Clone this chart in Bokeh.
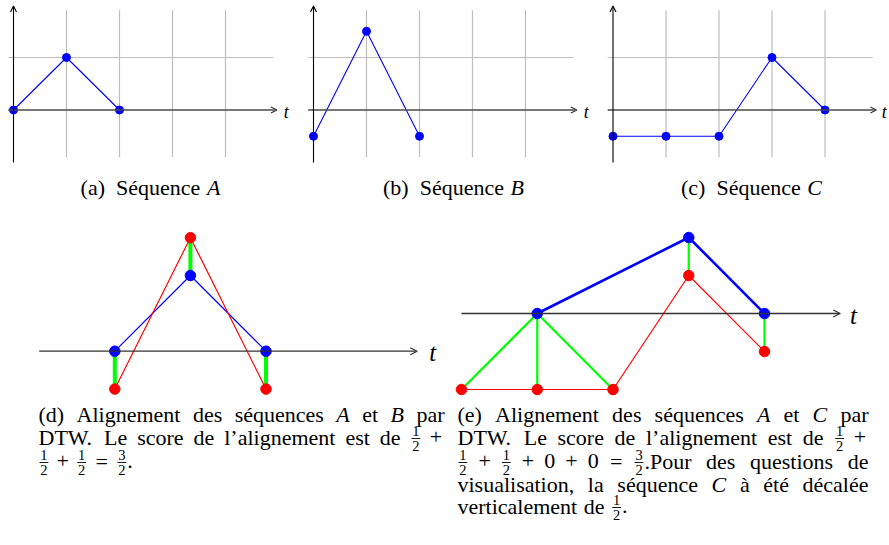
from bokeh.plotting import figure
from bokeh.models import Range1d, Arrow, OpenHead
from bokeh.layouts import column, row
from bokeh.core.properties import value
from bokeh.embed import file_html
from bokeh.resources import INLINE

# ---------------- data ----------------
t_A = [0, 1, 2]
seq_A = [0, 1, 0]
t_B = [0, 1, 2]
seq_B = [-0.5, 1.5, -0.5]
t_C = [0, 1, 2, 3, 4]
seq_C = [-0.5, -0.5, -0.5, 1, 0]
grid_x = [1, 2, 3, 4]
grid_y = [1]
# DTW alignment paths (index in A, index in other sequence)
path_AB = [(0, 0), (1, 1), (2, 2)]
path_AC = [(0, 0), (0, 1), (0, 2), (1, 3), (2, 4)]
# positions of the points of A on the time axis of panel (e)
t_A_e = [1, 3, 4]
shift_C = -0.5
top_labels = ["(a)", "(b)", "(c)"]
top_names = ["A", "B", "C"]

FONT = value("Liberation Serif")


def panel(w, h, xr, yr):
    p = figure(width=w, height=h, x_range=Range1d(*xr), y_range=Range1d(*yr),
               output_backend="svg", toolbar_location=None, min_border=0,
               x_axis_type=None, y_axis_type=None, outline_line_color=None,
               background_fill_color="white", border_fill_color="white")
    return p


# ---------------- top row ----------------
UX, UY = 53.0, 52.5
Y0_TOP = 109.5
H_TOP = 170


def top_panel(w, left_px, ts, vals, t_x):
    xs = -left_px / UX
    p = panel(w, H_TOP, (xs, xs + w / UX), (-(H_TOP - Y0_TOP) / UY, Y0_TOP / UY))
    n = len(grid_x)
    p.segment(x0=grid_x, y0=[-0.9] * n, x1=grid_x, y1=[1.9] * n,
              line_color="#bdbdbd", line_width=1.2)
    m = len(grid_y)
    p.segment(x0=[-0.1] * m, y0=grid_y, x1=[4.9] * m, y1=grid_y,
              line_color="#bdbdbd", line_width=1.2)
    p.add_layout(Arrow(end=OpenHead(size=6, line_color="#333333", line_width=1.1),
                       x_start=-0.1, y_start=0, x_end=4.97, y_end=0,
                       line_color="#4a4a4a", line_width=1.7))
    p.add_layout(Arrow(end=OpenHead(size=6, line_color="black", line_width=1.1),
                       x_start=0, y_start=-1.0, x_end=0, y_end=1.98,
                       line_color="black", line_width=1.1))
    p.text(x=[t_x], y=[-0.03], text=["t"], text_font=FONT, text_font_style="italic",
           text_font_size="18px", text_align="left", text_baseline="middle",
           text_color="black")
    p.line(ts, vals, line_color="blue", line_width=1.1)
    p.scatter(ts, vals, size=8, fill_color="blue", line_color="blue")
    return p


fa = top_panel(300, 13, t_A, seq_A, 5.1)
fb = top_panel(300, 13, t_B, seq_B, 5.1)
fc = top_panel(289, 12.5, t_C, seq_C, 5.07)

# ---------------- bottom row ----------------
Y_BOT0, Y_BOT1 = 210, 400
# (d)
dux, duy = 75.6, 75.7
dxs = (0 - 114.3) / dux
fd = panel(448, Y_BOT1 - Y_BOT0, (dxs, dxs + 448 / dux),
           (-(Y_BOT1 - 350.7) / duy, (350.7 - Y_BOT0) / duy))
fd.add_layout(Arrow(end=OpenHead(size=7, line_color="#333333", line_width=1.2),
                    x_start=-1, y_start=0, x_end=4.0, y_end=0,
                    line_color="#333333", line_width=1.3))
fd.text(x=[4.16], y=[-0.02], text=["t"], text_font=FONT, text_font_style="italic",
        text_font_size="25px", text_align="left", text_baseline="middle")
fd.line(t_A, seq_A, line_color="#0000ff", line_width=1.2)
fd.line(t_B, seq_B, line_color="#ff0000", line_width=1.2)
fd.segment(x0=[t_A[i] for i, j in path_AB], y0=[seq_A[i] for i, j in path_AB],
           x1=[t_B[j] for i, j in path_AB], y1=[seq_B[j] for i, j in path_AB],
           line_color="#00ff00", line_width=4)
fd.scatter(t_A, seq_A, size=10.5, fill_color="blue", line_color="blue")
fd.scatter(t_B, seq_B, size=10.5, fill_color="red", line_color="red")

# (e)
eux, euy = 75.75, 76.0
exs = (448 - 461) / eux
fe = panel(441, Y_BOT1 - Y_BOT0, (exs, exs + 441 / eux),
           (-(Y_BOT1 - 313) / euy, (313 - Y_BOT0) / euy))
C_shifted = [c + shift_C for c in seq_C]
fe.add_layout(Arrow(end=OpenHead(size=7, line_color="#333333", line_width=1.2),
                    x_start=0, y_start=0, x_end=5.0, y_end=0,
                    line_color="#333333", line_width=1.3))
fe.text(x=[5.13], y=[-0.02], text=["t"], text_font=FONT, text_font_style="italic",
        text_font_size="25px", text_align="left", text_baseline="middle")
fe.line(t_C, C_shifted, line_color="#ff0000", line_width=1.2)
fe.segment(x0=[t_A_e[i] for i, j in path_AC], y0=[seq_A[i] for i, j in path_AC],
           x1=[t_C[j] for i, j in path_AC], y1=[C_shifted[j] for i, j in path_AC],
           line_color="#00ff00", line_width=2.2)
fe.line(t_A_e, seq_A, line_color="#0000ff", line_width=2.6)
fe.scatter(t_C, C_shifted, size=10.5, fill_color="red", line_color="red")
fe.scatter(t_A_e, seq_A, size=10.5, fill_color="blue", line_color="blue")

# ---------------- caption typesetting ----------------
FS = 22
FSF = 14.5
MID = 0.34  # offset from baseline to the middle of the em box, in em
RM = {" ": 250, "(": 333, ")": 333, ",": 250, ".": 250, "+": 564, "=": 564, "’": 333,
      "a": 444, "b": 500, "c": 444, "d": 500, "e": 444, "f": 333, "g": 500, "h": 500,
      "i": 278, "j": 278, "k": 500, "l": 278, "m": 778, "n": 500, "o": 500, "p": 500,
      "q": 500, "r": 333, "s": 389, "t": 278, "u": 500, "v": 500, "w": 722, "x": 500,
      "y": 500, "z": 444, "A": 722, "B": 667, "C": 667, "D": 722, "E": 611, "L": 611,
      "P": 556, "S": 556, "T": 611, "W": 944, "é": 444, "à": 444}
IT = {"A": 611, "B": 611, "C": 667, "t": 278}
GAP = {"S": (0.30 * FS, 1.0), "m": (0.222 * FS, 0.35), "M": (0.278 * FS, 0.35),
       "L": (0.5 * FS, 1.0)}


def tw(s, it=False, size=FS):
    tot = 0
    for ch in s:
        tot += IT.get(ch, RM.get(ch, 500)) if it else RM.get(ch, 500)
    return tot * size / 1000.0


def item_w(tok):
    k = tok[0]
    if k == "w":
        return tw(tok[1])
    if k == "i":
        return tw(tok[1], True)
    if k == "o":
        return 0.778 * FS
    if k == "f":
        return max(tw(tok[1], size=FSF), tw(tok[2], size=FSF)) + 3.6
    return 0


def natural(tokens):
    nat, wsum = 0.0, 0.0
    for tok in tokens:
        if isinstance(tok, str):
            nat += GAP[tok][0]
            wsum += GAP[tok][1]
        else:
            nat += item_w(tok)
    return nat, wsum


def set_line(tokens, x0, x1, base, justify, out):
    nat, wsum = natural(tokens)
    extra = (x1 - x0 - nat) / wsum if (justify and wsum > 0) else 0.0
    x = x0
    ym = base - MID * FS
    for tok in tokens:
        if isinstance(tok, str):
            x += GAP[tok][0] + GAP[tok][1] * extra
            continue
        k = tok[0]
        w = item_w(tok)
        if k == "w":
            out["rm"].append((x, ym, tok[1]))
        elif k == "i":
            out["it"].append((x, ym, tok[1]))
        elif k == "o":
            out["op"].append((x + w / 2, ym, tok[1]))
        elif k == "f":
            cx = x + w / 2
            bar = base - 6.0
            out["fr"].append((cx, bar - 2.8 - MID * FSF, tok[1]))
            out["fr"].append((cx, bar + 12.8 - MID * FSF, tok[2]))
            out["bar"].append((x + 1.0, x + w - 1.0, bar))
        x += w


def draw(p, out):
    def cols(lst):
        return [a for a, b, c in lst], [b for a, b, c in lst], [c for a, b, c in lst]
    common = dict(text_font=FONT, text_baseline="middle", text_color="black")
    if out["rm"]:
        x, y, t = cols(out["rm"])
        p.text(x=x, y=y, text=t, text_font_size=f"{FS}px", text_align="left", **common)
    if out["it"]:
        x, y, t = cols(out["it"])
        p.text(x=x, y=y, text=t, text_font_style="italic", text_font_size=f"{FS}px",
               text_align="left", **common)
    if out["op"]:
        x, y, t = cols(out["op"])
        p.text(x=x, y=y, text=t, text_font_size=f"{FS}px", text_align="center", **common)
    if out["fr"]:
        x, y, t = cols(out["fr"])
        p.text(x=x, y=y, text=t, text_font_size=f"{FSF}px", text_align="center", **common)
    if out["bar"]:
        p.segment(x0=[a for a, b, c in out["bar"]], y0=[c for a, b, c in out["bar"]],
                  x1=[b for a, b, c in out["bar"]], y1=[c for a, b, c in out["bar"]],
                  line_color="black", line_width=0.9)


def new_out():
    return {"rm": [], "it": [], "op": [], "fr": [], "bar": []}


# top captions (pixel coordinates of the page, y downwards)
cap1 = panel(889, Y_BOT0 - H_TOP, (0, 889), (Y_BOT0, H_TOP))
out1 = new_out()
top_centers = [150, 453, 751]
for lab, name, cxp in zip(top_labels, top_names, top_centers):
    toks = [("w", lab), "L", ("w", "Séquence"), "S", ("i", name)]
    nat, _ = natural(toks)
    set_line(toks, cxp - nat / 2, cxp + nat / 2, 194, False, out1)
draw(cap1, out1)

# bottom captions
half = ("f", "1", "2")
plus = ("o", "+")
eq = ("o", "=")
cap_d = [
    ([("w", "(d)"), "S", ("w", "Alignement"), "S", ("w", "des"), "S", ("w", "séquences"), "S",
      ("i", "A"), "S", ("w", "et"), "S", ("i", "B"), "S", ("w", "par")], True),
    ([("w", "DTW."), "S", ("w", "Le"), "S", ("w", "score"), "S", ("w", "de"), "S",
      ("w", "l’alignement"), "S", ("w", "est"), "S", ("w", "de"), "S", half, "m", plus], True),
    ([half, "m", plus, "m", half, "M", eq, "M", ("f", "3", "2"), ("w", ".")], False),
]
cap_e = [
    ([("w", "(e)"), "S", ("w", "Alignement"), "S", ("w", "des"), "S", ("w", "séquences"), "S",
      ("i", "A"), "S", ("w", "et"), "S", ("i", "C"), "S", ("w", "par")], True),
    ([("w", "DTW."), "S", ("w", "Le"), "S", ("w", "score"), "S", ("w", "de"), "S",
      ("w", "l’alignement"), "S", ("w", "est"), "S", ("w", "de"), "S", half, "m", plus], True),
    ([half, "m", plus, "m", half, "m", plus, "m", ("w", "0"), "m", plus, "m", ("w", "0"), "M", eq,
      "M", ("f", "3", "2"), ("w", ".Pour"), "S", ("w", "des"), "S", ("w", "questions"), "S",
      ("w", "de")], True),
    ([("w", "visualisation,"), "S", ("w", "la"), "S", ("w", "séquence"), "S", ("i", "C"), "S",
      ("w", "à"), "S", ("w", "été"), "S", ("w", "décalée")], True),
    ([("w", "verticalement"), "S", ("w", "de"), "S", half, ("w", ".")], False),
]
baselines = [421, 444, 468, 491, 513]

cap2 = panel(889, 545 - Y_BOT1, (0, 889), (545, Y_BOT1))
out2 = new_out()
for (toks, just), b in zip(cap_d, baselines):
    set_line(toks, 38, 444, b, just, out2)
for (toks, just), b in zip(cap_e, baselines):
    set_line(toks, 457, 868, b, just, out2)
draw(cap2, out2)

layout = column(row(fa, fb, fc), cap1, row(fd, fe), cap2)
open("out.html", "w").write(file_html(layout, INLINE))
